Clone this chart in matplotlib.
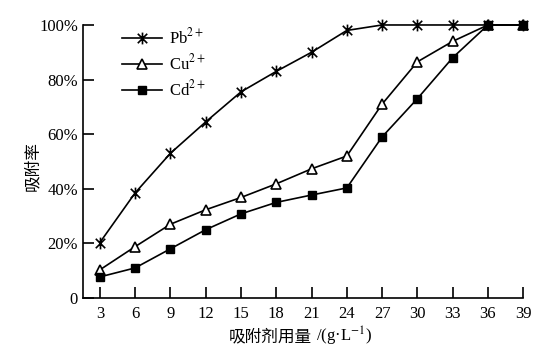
import matplotlib
matplotlib.use("Agg")
import matplotlib.pyplot as plt
from matplotlib.path import Path

plt.rcParams['font.family'] = ['Liberation Serif', 'DejaVu Sans']
plt.rcParams['mathtext.fontset'] = 'stix'
CJK = ['Noto Sans CJK SC', 'DejaVu Sans']

dose = [3, 6, 9, 12, 15, 18, 21, 24, 27, 30, 33, 36, 39]
pb = [20.3, 38.5, 53.0, 64.5, 75.5, 83.0, 90.0, 98.0, 100, 100, 100, 100, 100]
cu = [10.3, 18.8, 27.0, 32.3, 36.8, 41.8, 47.3, 52.0, 71.0, 86.5, 94.0, 100, 100]
cd = [7.7, 11.0, 18.0, 25.0, 30.8, 35.0, 37.7, 40.3, 59.0, 73.0, 88.0, 100, 100]
yticks = [0, 20, 40, 60, 80, 100]
ytick_labels = ['0', '20%', '40%', '60%', '80%', '100%']

star = Path([(0, -1), (0, 1), (-0.8, -0.8), (0.8, 0.8), (-0.8, 0.8), (0.8, -0.8)],
            [Path.MOVETO, Path.LINETO, Path.MOVETO, Path.LINETO, Path.MOVETO, Path.LINETO])

fig = plt.figure(figsize=(5.45, 3.62), dpi=100)
ax = fig.add_axes([0.152, 0.177, 0.808, 0.754])

ax.plot(dose, pb, color='black', lw=1.2, marker=star, ms=8.5, mew=1.2,
        label='Pb$^{2+}$', clip_on=False, zorder=3)
ax.plot(dose, cu, color='black', lw=1.2, marker='^', ms=7, mfc='white', mew=1.2,
        label='Cu$^{2+}$', clip_on=False, zorder=4)
ax.plot(dose, cd, color='black', lw=1.2, marker='s', ms=6.3, mfc='black',
        label='Cd$^{2+}$', clip_on=False, zorder=5)

ax.set_xlim(1.55, 39)
ax.set_ylim(0, 100)
ax.set_xticks(dose)
ax.set_xticklabels([str(d) for d in dose])
ax.set_yticks(yticks)
ax.set_yticklabels(ytick_labels)
for s in ['top', 'right']:
    ax.spines[s].set_visible(False)
for s in ['left', 'bottom']:
    ax.spines[s].set_linewidth(1.2)
ax.tick_params(direction='in', length=8, width=1.2, labelsize=12, colors='black')
ax.tick_params(axis='x', pad=6)

fig.text(312 / 545, 1 - 337 / 362, '吸附剂用量', family=CJK, fontsize=12,
         ha='right', va='center')
fig.text(316 / 545, 1 - 336 / 362, '/(g·L$^{-1}$)', fontsize=12,
         ha='left', va='center')
fig.text(33 / 545, 1 - 166 / 362, '吸附率', family=CJK, fontsize=12,
         ha='center', va='center', rotation=90)

leg = ax.legend(loc='upper left', bbox_to_anchor=(0.055, 1.045), frameon=False,
                fontsize=12, handlelength=2.4, labelspacing=0.35, handletextpad=0.4)

fig.savefig('out.png', dpi=100)
